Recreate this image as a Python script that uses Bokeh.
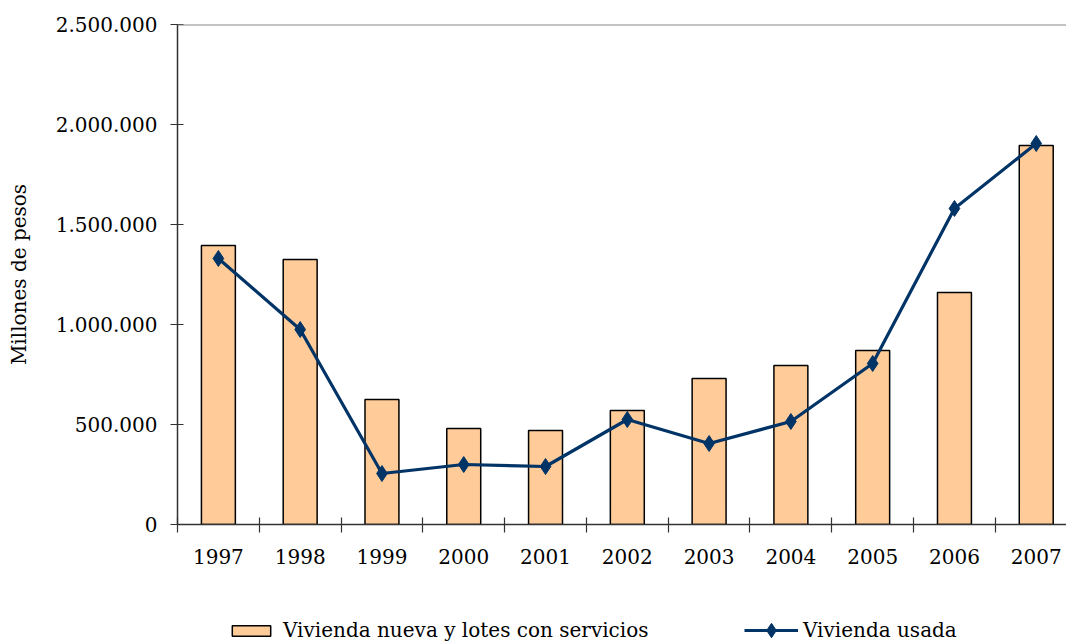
from bokeh.plotting import figure
from bokeh.models import FixedTicker, Span, Legend, LegendItem, ColumnDataSource
from bokeh.layouts import column
from bokeh.embed import file_html
from bokeh.resources import INLINE

years = ["1997", "1998", "1999", "2000", "2001", "2002", "2003", "2004", "2005", "2006", "2007"]
nueva = [1395000, 1325000, 625000, 480000, 470000, 570000, 730000, 795000, 870000, 1160000, 1895000]
usada = [1330000, 975000, 255000, 300000, 290000, 525000, 405000, 515000, 805000, 1580000, 1905000]
y_ticks = [0, 500000, 1000000, 1500000, 2000000, 2500000]
series_names = ["Vivienda nueva y lotes con servicios", "Vivienda usada"]

xs = list(range(len(years)))
src = ColumnDataSource(dict(x=xs, nueva=nueva, usada=usada))

BAR = dict(fill_color="#FFCC99", line_color="black", line_width=1.5)
LINE = dict(line_color="#003366", line_width=3.2)
MARK = dict(marker="diamond", size=16, fill_color="#003366", line_color="#003366")
FONT = "DejaVu Serif"

p = figure(width=1066, height=580, output_backend="svg", toolbar_location=None,
           x_range=(-0.5, 10.37), y_range=(0, 2500000),
           min_border_left=177, min_border_top=24, min_border_bottom=56, min_border_right=0)
p.outline_line_color = None
p.grid.visible = False

p.vbar(x="x", top="nueva", width=0.415, bottom=0, source=src, **BAR)
p.line(x="x", y="usada", source=src, **LINE)
p.scatter(x="x", y="usada", source=src, **MARK)

p.add_layout(Span(location=y_ticks[-1], dimension="width", line_color="#888888", line_width=2))

# x axis
xa = p.xaxis[0]
xa.ticker = FixedTicker(ticks=xs, minor_ticks=[i - 0.5 for i in range(len(years) + 1)])
xa.major_label_overrides = {i: y for i, y in enumerate(years)}
xa.major_tick_in = 0
xa.major_tick_out = 0
xa.minor_tick_in = 7
xa.minor_tick_out = 8
xa.minor_tick_line_color = "#333333"
xa.minor_tick_line_width = 1.2
xa.axis_line_color = "#333333"
xa.axis_line_width = 1.5
xa.major_label_text_font = FONT
xa.major_label_text_font_size = "20px"
xa.major_label_text_color = "black"
xa.major_label_standoff = 16

# y axis
ya = p.yaxis[0]
ya.ticker = FixedTicker(ticks=y_ticks, minor_ticks=[])
ya.major_label_overrides = {t: f"{t:,}".replace(",", ".") for t in y_ticks}
ya.major_tick_in = 6
ya.major_tick_out = 7
ya.major_tick_line_color = "#333333"
ya.major_tick_line_width = 1.2
ya.axis_line_color = "#333333"
ya.axis_line_width = 1.5
ya.major_label_text_font = FONT
ya.major_label_text_font_size = "20px"
ya.major_label_text_color = "black"
ya.major_label_standoff = 13
ya.axis_label = "Millones de pesos"
ya.axis_label_text_font = FONT
ya.axis_label_text_font_size = "20px"
ya.axis_label_text_font_style = "normal"
ya.axis_label_text_color = "black"
ya.axis_label_standoff = 22

# legend strip: renderers with a single NaN row, so only the legend entries show
nan = float("nan")
dummy = ColumnDataSource(dict(x=[nan], nueva=[nan], usada=[nan]))
q = figure(width=1066, height=62, output_backend="svg", toolbar_location=None,
           x_range=(0, 1), y_range=(0, 1),
           min_border=0, x_axis_location=None, y_axis_location=None)
q.outline_line_color = None
q.grid.visible = False
lb = q.vbar(x="x", top="nueva", width=0.415, bottom=0, source=dummy, **BAR)
ll = q.line(x="x", y="usada", source=dummy, **LINE)
lm = q.scatter(x="x", y="usada", source=dummy, **MARK)

common = dict(orientation="horizontal", padding=0, margin=0, border_line_color=None,
              background_fill_alpha=0, label_text_font=FONT, label_text_font_size="20px",
              label_text_color="black")
leg1 = Legend(items=[LegendItem(label=series_names[0], renderers=[lb])],
              location=(50, 0), glyph_width=48, glyph_height=13, label_standoff=8, **common)
leg2 = Legend(items=[LegendItem(label=series_names[1], renderers=[ll, lm])],
              location=(567, -6), glyph_width=54, glyph_height=36, label_standoff=5, **common)
q.add_layout(leg1, "center")
q.add_layout(leg2, "center")

open("out.html", "w").write(file_html(column(p, q, spacing=0), INLINE))
